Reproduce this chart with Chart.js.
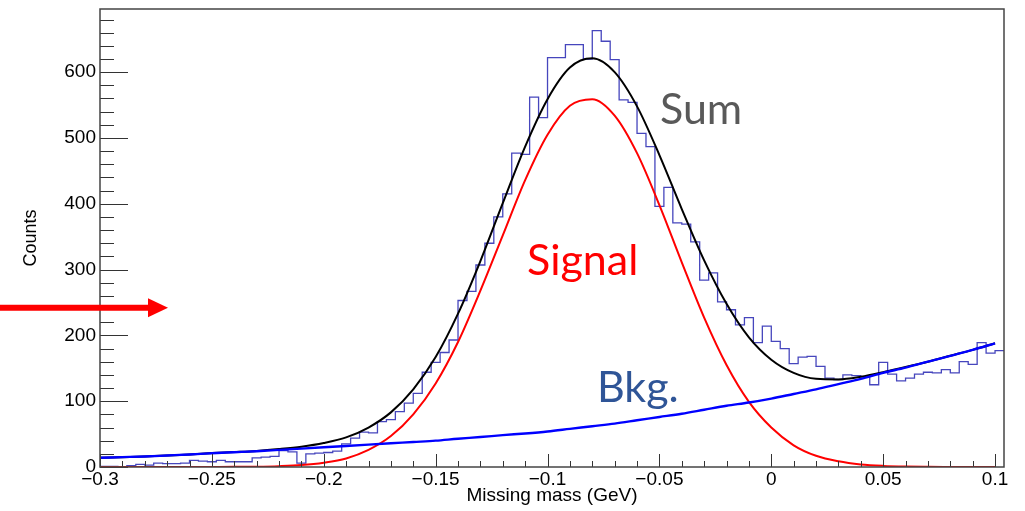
<!DOCTYPE html>
<html><head><meta charset="utf-8">
<script src="https://cdn.jsdelivr.net/npm/chart.js@4.4.1/dist/chart.umd.min.js"></script>
<style>html,body{margin:0;padding:0;background:#fff;} canvas{display:block;}</style>
</head><body>
<canvas id="c" width="1025" height="511"></canvas>
<script>
// ---- data ----
const binLow = -0.3;
const binWidth = 0.004;
const counts = [
  1,1,0,2,4,3,6,5,5,6,
  10,9,8,10,8,8,8,14,15,16,
  25,23,6,20,21,22,24,35,44,53,
  52,69,72,84,97,112,144,159,174,193,
  253,267,307,340,380,415,477,475,562,531,
  622,622,642,642,620,663,647,619,558,554,
  507,487,396,425,371,369,342,284,295,251,
  239,216,227,189,214,191,180,157,167,168,
  153,135,133,140,139,137,125,159,141,131,
  135,141,144,143,148,143,160,156,189,173,
  177
];
const curveX = [-0.30,-0.29,-0.28,-0.27,-0.26,-0.25,-0.24,-0.23,-0.22,-0.21,
  -0.20,-0.19,-0.18,-0.17,-0.16,-0.15,-0.14,-0.13,-0.12,-0.11,
  -0.10,-0.09,-0.08,-0.07,-0.06,-0.05,-0.04,-0.03,-0.02,-0.01,
  0.00,0.01,0.02,0.03,0.04,0.05,0.06,0.07,0.08,0.09,0.10];
const signalFit = [0,0,0,0,0,0.1,0.2,0.5,1.3,2.9,
  6.5,13,26,47,80,127,190,268,352,436,
  505,549,559,534,477,398,311,227,155,99,
  60,33,17,8.6,3.9,1.7,0.7,0.3,0.1,0,0];
const bkgFit = [14,15,16,17.5,19,21,22.5,24,26,28,
  30,32,34,36,38,40,43,45.5,48.5,51,
  54,58,62,66,71,76,81,87,93,98,
  104,111,118,126,134,143,151,160,169,178,188];
const sumFit = [14,15,16,17.5,19,21.1,22.7,24.5,27.3,30.9,
  36.5,45,60,83,118,167,233,313,401,487,
  559,607,621,600,548,474,392,314,248,197,
  163,143,134,133,137,144,152,160,169,178,188];
const xTicks = [-0.3,-0.25,-0.2,-0.15,-0.1,-0.05,0,0.05,0.1];
const xTickLabels = ['\u22120.3','\u22120.25','\u22120.2','\u22120.15','\u22120.1','\u22120.05','0','0.05','0.1'];
const yTicks = [0,100,200,300,400,500,600];
const yTickLabels = ['0','100','200','300','400','500','600'];
const xMin = -0.3, xMax = 0.104, yMin = 0, yMax = 696;
const xMinorStep = 0.01, yMinorStep = 20;

// ---- build datasets ----
const histPts = counts.map((c,i)=>({x: binLow + i*binWidth, y: c}));
histPts.push({x: binLow + counts.length*binWidth, y: counts[counts.length-1]});
const toPts = arr => arr.map((v,i)=>({x: curveX[i], y: v}));

const framePlugin = {
  id: 'rootFrame',
  afterDraw(chart) {
    const {ctx, chartArea: a, scales: {x, y}} = chart;
    ctx.save();
    ctx.strokeStyle = '#333';
    ctx.lineWidth = 1;
    ctx.beginPath();
    for (let v = yMin; v <= yMax + 1e-9; v += yMinorStep) {
      const p = Math.round(y.getPixelForValue(v)) + 0.5;
      const major = Math.abs(v % 100) < 1e-9;
      ctx.moveTo(a.left, p); ctx.lineTo(a.left + (major ? 28 : 14), p);
    }
    const n = Math.round((0.1 - xMin)/xMinorStep);
    for (let k = 0; k <= n; k++) {
      const v = xMin + k*xMinorStep;
      const p = Math.round(x.getPixelForValue(v)) + 0.5;
      const major = k % 5 === 0;
      ctx.moveTo(p, a.bottom); ctx.lineTo(p, a.bottom - (major ? 13 : 6));
    }
    ctx.stroke();
    ctx.strokeStyle = '#444';
    ctx.lineWidth = 1.5;
    ctx.strokeRect(a.left, a.top, a.right - a.left, a.bottom - a.top);
    ctx.font = '43px Lato';
    ctx.textBaseline = 'alphabetic';
    ctx.fillStyle = '#595959';
    ctx.fillText('Sum', 660, 124);
    ctx.fillStyle = '#ff0000';
    ctx.fillText('Signal', 527, 275);
    ctx.fillStyle = '#2f5597';
    ctx.fillText('Bkg.', 597, 402);
    const ay = y.getPixelForValue(242);
    ctx.fillStyle = '#ff0000';
    ctx.fillRect(0, ay - 3, 150, 6);
    ctx.beginPath();
    ctx.moveTo(148, ay - 9.5); ctx.lineTo(168, ay); ctx.lineTo(148, ay + 9.5); ctx.closePath();
    ctx.fill();
    ctx.restore();
  }
};

new Chart(document.getElementById('c'), {
  type: 'line',
  data: {
    datasets: [
      {label: 'Data', data: histPts, stepped: 'before', borderColor: '#4646bd', borderWidth: 1.3,
       pointRadius: 0, fill: false, order: 4},
      {label: 'Sum', data: toPts(sumFit), borderColor: '#000000', borderWidth: 2,
       pointRadius: 0, cubicInterpolationMode: 'monotone', fill: false, order: 3},
      {label: 'Signal', data: toPts(signalFit), borderColor: '#ff0000', borderWidth: 2,
       pointRadius: 0, cubicInterpolationMode: 'monotone', fill: false, order: 2},
      {label: 'Bkg', data: toPts(bkgFit), borderColor: '#0000ff', borderWidth: 2.4,
       pointRadius: 0, cubicInterpolationMode: 'monotone', fill: false, order: 1}
    ]
  },
  options: {
    responsive: false,
    animation: false,
    devicePixelRatio: 1,
    layout: {padding: {left: 0, right: 21, top: 9, bottom: 0}},
    plugins: {legend: {display: false}, tooltip: {enabled: false}},
    scales: {
      x: {
        type: 'linear', min: xMin, max: xMax,
        grid: {display: false, drawTicks: false},
        border: {display: false},
        afterBuildTicks: s => { s.ticks = xTicks.map(v => ({value: v})); },
        afterFit: s => { s.height = 44; s.paddingLeft = 0; s.paddingRight = 0; },
        ticks: {
          autoSkip: false, maxRotation: 0, padding: 1, color: '#000',
          font: {family: 'Liberation Sans', size: 19},
          callback: v => { const k = xTicks.findIndex(t => Math.abs(t - v) < 1e-9); return k >= 0 ? xTickLabels[k] : ''; }
        },
        title: {display: true, text: 'Missing mass (GeV)', color: '#000',
          font: {family: 'Liberation Sans', size: 19}, padding: {top: 0, bottom: 4}}
      },
      y: {
        type: 'linear', min: yMin, max: yMax,
        grid: {display: false, drawTicks: false},
        border: {display: false},
        afterBuildTicks: s => { s.ticks = yTicks.map(v => ({value: v})); },
        afterFit: s => { s.width = 100; s.paddingTop = 0; s.paddingBottom = 0; },
        ticks: {
          autoSkip: false, padding: 4, color: '#000',
          font: {family: 'Liberation Sans', size: 19},
          callback: v => { const k = yTicks.indexOf(v); return k >= 0 ? yTickLabels[k] : ''; }
        },
        title: {display: true, text: 'Counts', color: '#000',
          font: {family: 'Liberation Sans', size: 18}, padding: {top: 20, bottom: 0}}
      }
    }
  },
  plugins: [framePlugin]
});
</script>
</body></html>
